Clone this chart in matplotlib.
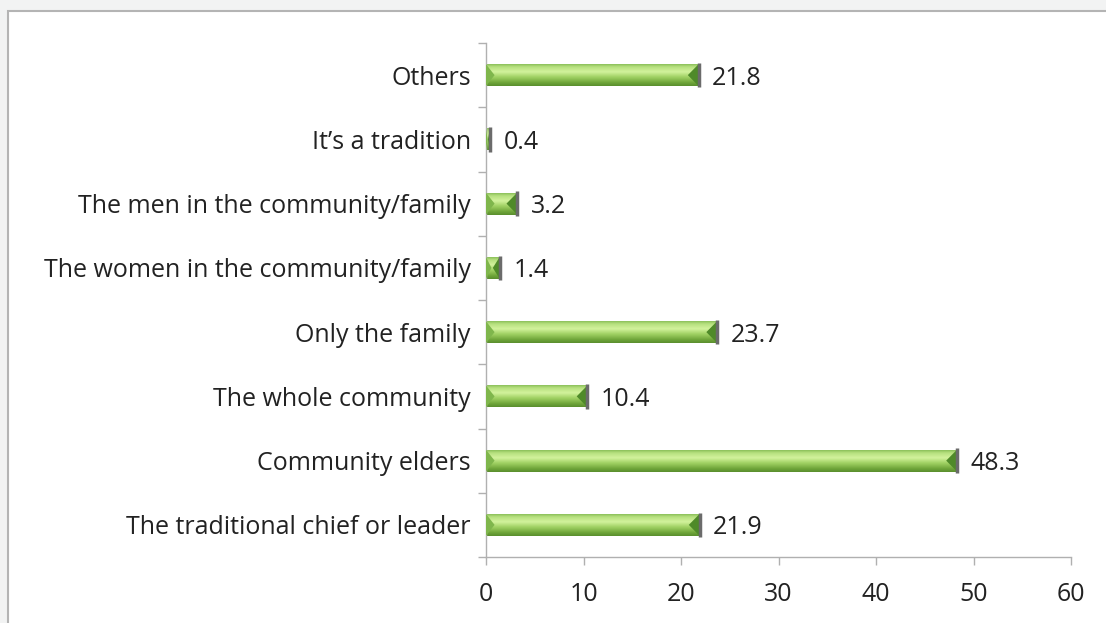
import matplotlib.pyplot as plt
import numpy as np
from matplotlib.colors import LinearSegmentedColormap
from matplotlib.patches import Rectangle, Polygon

categories = ['The traditional chief or leader', 'Community elders', 'The whole community',
              'Only the family', 'The women in the community/family',
              'The men in the community/family', 'It\u2019s a tradition', 'Others']
values = [21.9, 48.3, 10.4, 23.7, 1.4, 3.2, 0.4, 21.8]
xticks = [0, 10, 20, 30, 40, 50, 60]

plt.rcParams['font.family'] = ['Open Sans', 'DejaVu Sans']
fs = 18

fig = plt.figure(figsize=(11.06, 6.23), dpi=100, facecolor='#f2f3f3')
# white chart panel with a grey frame on the left and top
panel = Rectangle((8 / 1106, -0.05), 1.2, 1 - 11 / 623 + 0.05, transform=fig.transFigure,
                  facecolor='white', edgecolor='#b4b4b4', linewidth=1.5, zorder=-10)
fig.patches.append(panel)

ax = fig.add_axes([486 / 1106, 1 - 557 / 623, (1071 - 486) / 1106, (557 - 43) / 623])
ax.set_facecolor('none')

# green bevelled gradient, top to bottom
grad = LinearSegmentedColormap.from_list('bevel', [
    (0.0, '#8cc05a'), (0.12, '#b6e07e'), (0.35, '#d2f29c'),
    (0.6, '#9fd062'), (0.85, '#6fa53a'), (1.0, '#5a8f2e')])
gimg = np.linspace(0, 1, 64).reshape(-1, 1)

h = 0.34
bev = 1.1
y = np.arange(len(categories))
for yi, v in zip(y, values):
    y0, y1 = yi - h / 2, yi + h / 2
    rect = Rectangle((0, y0), v, h, facecolor='none', edgecolor='none')
    ax.add_patch(rect)
    im = ax.imshow(gimg, cmap=grad, aspect='auto', extent=(0, v, y0, y1),
                   origin='upper', interpolation='bilinear', zorder=2)
    im.set_clip_path(rect)
    b = min(bev, v / 2)
    # darker bevels at both ends
    ax.add_patch(Polygon([(v, y0), (v - b, yi), (v, y1)], closed=True,
                         facecolor='#4f8a29', edgecolor='none', zorder=3))
    ax.add_patch(Polygon([(0, y0), (b * 0.8, yi), (0, y1)], closed=True,
                         facecolor='#7fb64c', edgecolor='none', zorder=3))
    ax.plot([v, v], [y0 - 0.02, y1 + 0.02], color='#6b6b6b', linewidth=2.5,
            solid_capstyle='butt', zorder=4)
    ax.text(v + 1.4, yi, f'{v}', va='center_baseline', ha='left', fontsize=fs, color='#222222')

ax.set_xlim(0, 60)
ax.set_ylim(-0.5, len(categories) - 0.5)
ax.set_xticks(xticks)
ax.set_yticks(y)
ax.set_yticklabels(categories)
ax.set_yticks(np.arange(-0.5, len(categories)), minor=True)
ax.tick_params(axis='y', which='major', length=0, pad=11, labelsize=fs, labelcolor='#222222')
ax.tick_params(axis='y', which='minor', length=6, color='#b0b0b0', width=1)
ax.tick_params(axis='x', length=6, color='#b0b0b0', width=1, pad=12, labelsize=fs,
               labelcolor='#222222')
for s in ['top', 'right']:
    ax.spines[s].set_visible(False)
for s in ['left', 'bottom']:
    ax.spines[s].set_color('#b0b0b0')
    ax.spines[s].set_linewidth(1)

fig.savefig('out.png', dpi=100, facecolor=fig.get_facecolor())
